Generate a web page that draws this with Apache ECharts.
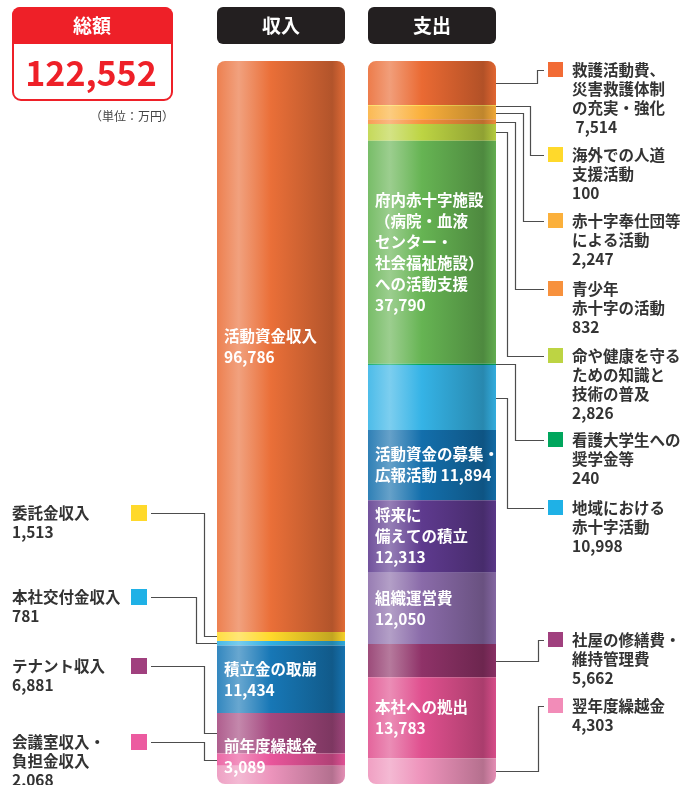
<!DOCTYPE html>
<html>
<head>
<meta charset="utf-8">
<script src="https://cdn.jsdelivr.net/npm/echarts@6/dist/echarts.min.js"></script>
<style>
  html, body { margin: 0; padding: 0; background: #fff; }
  #chart { width: 685px; height: 785px; }
</style>
</head>
<body>
<div id="chart"></div>
<script>
// 収入
const incomeNames = ['活動資金収入', '委託金収入', '本社交付金収入', '積立金の取崩', 'テナント収入', '会議室収入・\n負担金収入', '前年度繰越金']
const incomeValues = [96786, 1513, 781, 11434, 6881, 2068, 3089]
const incomeColors = ['#ea6f38', '#ffd92b', '#2fb0e4', '#1777b6', '#a4487f', '#e9559b', '#ec94bc']
const incomeInside = [true, false, false, true, false, false, true]

// 支出
const expenseNames = ['救護活動費、\n災害救護体制\nの充実・強化', '海外での人道\n支援活動', '赤十字奉仕団等\nによる活動', '青少年\n赤十字の活動',
  '命や健康を守る\nための知識と\n技術の普及', '府内赤十字施設\n（病院・血液\nセンター・\n社会福祉施設）\nへの活動支援', '看護大学生への\n奨学金等',
  '地域における\n赤十字活動', '活動資金の募集・\n広報活動', '将来に\n備えての積立', '組織運営費', '社屋の修繕費・\n維持管理費', '本社への拠出', '翌年度繰越金']
const expenseValues = [7514, 100, 2247, 832, 2826, 37790, 240, 10998, 11894, 12313, 12050, 5662, 13783, 4303]
const expenseColors = ['#ea6a33', '#ffd92b', '#fbb03b', '#f7913d', '#bdd443', '#66b453', '#00a65d',
  '#35b3e6', '#136fac', '#5e3a8e', '#8a6ba9', '#8f3268', '#e0508f', '#ee93bb']
const legendColors = {
  '救護活動費、\n災害救護体制\nの充実・強化': '#f26b35',
  '看護大学生への\n奨学金等': '#00a65d',
  '地域における\n赤十字活動': '#1fb1e6',
  '社屋の修繕費・\n維持管理費': '#a0407e',
  '翌年度繰越金': '#f28cb8',
  '本社交付金収入': '#1fb1e6',
  'テナント収入': '#a0407e',
  '会議室収入・\n負担金収入': '#ec5ba0'
}
const expenseInside = [false, false, false, false, false, true, false, false, true, true, true, false, true, false]
const sameLine = ['活動資金の募集・\n広報活動']

const total = incomeValues.reduce((a, b) => a + b, 0)
const fmt = v => v.toLocaleString('en-US')
const FONT = '"Noto Sans CJK JP", "Noto Sans", sans-serif'

// レイアウト（凡例の位置と折れ線の折り返し位置）
const leftLegend = [
  { y: 513, elbow: 204 }, { y: 597, elbow: 196 }, { y: 666, elbow: 204 }, { y: 742, elbow: 204 }
]
const rightLegend = [
  { y: 70, elbow: 537 }, { y: 155, elbow: 530 }, { y: 221, elbow: 523 }, { y: 289, elbow: 515 },
  { y: 356, elbow: 507 }, { y: 440, elbow: 515 }, { y: 508, elbow: 507 }, { y: 640, elbow: 538 }, { y: 706, elbow: 538 }
]
const inGrid = { left: 217, width: 128, top: 61, bottom: 1 }
const outGrid = { left: 368, width: 128, top: 61, bottom: 1 }

function mix (hex, to, t) {
  const a = parseInt(hex.slice(1), 16)
  const b = parseInt(to.slice(1), 16)
  const ch = s => {
    const x = (a >> s) & 255
    const y = (b >> s) & 255
    return Math.round(x + (y - x) * t)
  }
  return 'rgb(' + ch(16) + ',' + ch(8) + ',' + ch(0) + ')'
}

function grad (c) {
  return new echarts.graphic.LinearGradient(0, 0, 1, 0, [
    { offset: 0, color: mix(c, '#ffffff', 0.12) },
    { offset: 0.17, color: mix(c, '#ffffff', 0.35) },
    { offset: 0.42, color: c },
    { offset: 0.68, color: mix(c, '#000000', 0.13) },
    { offset: 0.9, color: mix(c, '#000000', 0.24) },
    { offset: 1, color: mix(c, '#000000', 0.04) }
  ])
}

function makeSeries (names, values, colors, inside, axis, stack) {
  const last = values.length - 1
  return values.map((v, i) => ({
    type: 'bar',
    name: names[i],
    xAxisIndex: axis,
    yAxisIndex: axis,
    stack: stack,
    barWidth: '100%',
    silent: true,
    data: [v],
    itemStyle: {
      color: grad(colors[i]),
      borderRadius: i === 0 ? [8, 8, 0, 0] : (i === last ? [0, 0, 8, 8] : 0)
    },
    label: {
      show: inside[i],
      // 一番下の細い区間は下端に寄せる
      position: i === last ? [7, '100%'] : 'insideLeft',
      verticalAlign: i === last ? 'bottom' : 'middle',
      offset: i === last ? [0, -6] : [0, 0],
      distance: 7,
      color: '#fff',
      fontFamily: FONT,
      fontWeight: 'bold',
      fontSize: 15.5,
      lineHeight: 21,
      formatter: () => names[i] + (sameLine.includes(names[i]) ? ' ' : '\n') + fmt(v)
    }
  }))
}

const chart = echarts.init(document.getElementById('chart'))
const options = {
  animation: false,
  grid: [inGrid, outGrid],
  xAxis: [
    { type: 'category', gridIndex: 0, data: ['収入'], show: false },
    { type: 'category', gridIndex: 1, data: ['支出'], show: false }
  ],
  yAxis: [
    { type: 'value', gridIndex: 0, inverse: true, min: 0, max: total, show: false },
    { type: 'value', gridIndex: 1, inverse: true, min: 0, max: total, show: false }
  ],
  series: [].concat(
    makeSeries(incomeNames, incomeValues, incomeColors, incomeInside, 0, 'in'),
    makeSeries(expenseNames, expenseValues, expenseColors, expenseInside, 1, 'out')
  )
}
chart.setOption(options)

// 凡例と引き出し線
const graphics = []
const LINE = { stroke: '#4d4d4d', lineWidth: 1.2, fill: null }
const textStyle = (text, x, y, align) => ({
  type: 'text',
  style: {
    text: text, x: x, y: y - 9.5, align: align || 'left', verticalAlign: 'top',
    fill: '#333', fontFamily: FONT, fontWeight: 'bold', fontSize: 15.5, lineHeight: 19
  }
})

function centers (values, axis) {
  let acc = 0
  return values.map(v => {
    const c = chart.convertToPixel({ yAxisIndex: axis }, acc + v / 2)
    acc += v
    return c
  })
}

const inCenters = centers(incomeValues, 0)
let k = 0
incomeValues.forEach((v, i) => {
  if (incomeInside[i]) return
  const lg = leftLegend[k++]
  const cy = Math.round(inCenters[i]) + 0.5
  const ly = lg.y + 0.5
  graphics.push({ type: 'rect', shape: { x: 131, y: lg.y - 8, width: 16, height: 16 }, style: { fill: legendColors[incomeNames[i]] || incomeColors[i] } })
  graphics.push(textStyle(incomeNames[i] + '\n' + fmt(v), 12, lg.y))
  graphics.push({ type: 'polyline', shape: { points: [[151, ly], [lg.elbow + 0.5, ly], [lg.elbow + 0.5, cy], [inGrid.left, cy]] }, style: LINE })
})

const outCenters = centers(expenseValues, 1)
const outRight = outGrid.left + outGrid.width
k = 0
expenseValues.forEach((v, i) => {
  if (expenseInside[i]) return
  const lg = rightLegend[k++]
  const cy = Math.round(outCenters[i]) + 0.5
  const ly = lg.y + 0.5
  graphics.push({ type: 'rect', shape: { x: 548, y: lg.y - 8, width: 15, height: 15 }, style: { fill: legendColors[expenseNames[i]] || expenseColors[i] } })
  graphics.push(textStyle(expenseNames[i] + '\n' + (i === 0 ? ' ' : '') + fmt(v), 572, lg.y))
  graphics.push({ type: 'polyline', shape: { points: [[outRight, cy], [lg.elbow + 0.5, cy], [lg.elbow + 0.5, ly], [544, ly]] }, style: LINE })
})

// 見出し
const header = (label, x) => [
  { type: 'rect', shape: { x: x, y: 7, width: 128, height: 37, r: 6 }, style: { fill: '#231f20' } },
  { type: 'text', style: { text: label, x: x + 64, y: 26, align: 'center', verticalAlign: 'middle', fill: '#fff', fontFamily: FONT, fontWeight: 'bold', fontSize: 19 } }
]
graphics.push(...header('収入', inGrid.left), ...header('支出', outGrid.left))

// 総額
graphics.push(
  { type: 'rect', shape: { x: 13, y: 8, width: 159, height: 92, r: 8 }, style: { fill: '#fff', stroke: '#ee2028', lineWidth: 2 } },
  { type: 'rect', shape: { x: 12, y: 7, width: 161, height: 37, r: [8, 8, 0, 0] }, style: { fill: '#ee2028' } },
  { type: 'text', style: { text: '総額', x: 92, y: 26, align: 'center', verticalAlign: 'middle', fill: '#fff', fontFamily: FONT, fontWeight: 'bold', fontSize: 19 } },
  { type: 'text', style: { text: fmt(total), x: 91, y: 73, align: 'center', verticalAlign: 'middle', fill: '#ee2028', fontFamily: FONT, fontWeight: 'bold', fontSize: 34 } },
  { type: 'text', style: { text: '（単位：万円）', x: 174, y: 116, align: 'right', verticalAlign: 'middle', fill: '#444', fontFamily: FONT, fontSize: 12 } }
)

chart.setOption({ graphic: graphics })
</script>
</body>
</html>
